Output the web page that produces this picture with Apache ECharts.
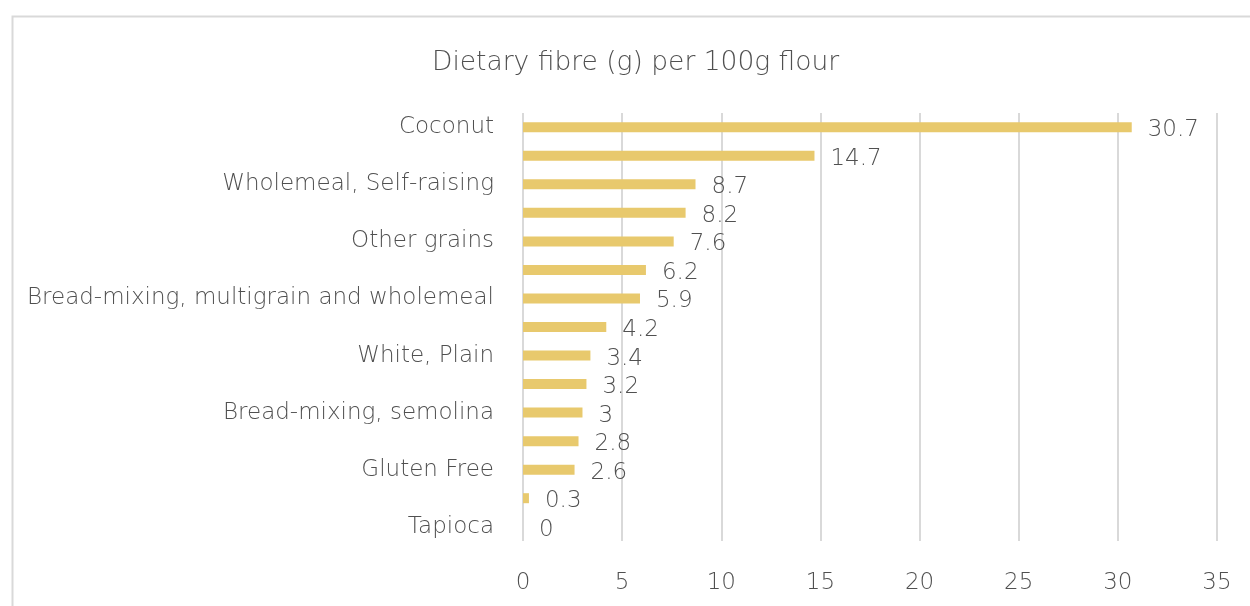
<!DOCTYPE html>
<html>
<head>
<meta charset="utf-8">
<script src="https://cdn.jsdelivr.net/npm/echarts@6/dist/echarts.min.js"></script>
<style>
html, body { margin: 0; padding: 0; background: #fff; }
#fibreChart { width: 1250px; height: 606px; }
</style>
</head>
<body>
<div id="fibreChart"></div>
<script>
// flour types, top to bottom (every other label is hidden in the original)
var flours = [
    'Coconut', 'Soy', 'Wholemeal, Self-raising', 'Wholemeal, Plain',
    'Other grains', 'Rye', 'Bread-mixing, multigrain and wholemeal',
    'Bread-mixing, white', 'White, Plain', 'White, Self-raising',
    'Bread-mixing, semolina', 'Spelt', 'Gluten Free', 'Rice', 'Tapioca'
];
var fibre = [30.7, 14.7, 8.7, 8.2, 7.6, 6.2, 5.9, 4.2, 3.4, 3.2, 3, 2.8, 2.6, 0.3, 0];
var xTicks = [0, 35, 5];

var textColor = '#505050';
var font = 'DejaVu Sans';

var chart = echarts.init(document.getElementById('fibreChart'));
chart.setOption({
    animation: false,
    textStyle: { fontFamily: font },
    graphic: [{
        type: 'rect',
        left: 10, top: 14,
        shape: { width: 1300, height: 700 },
        style: { fill: 'none', stroke: '#d9d9d9', lineWidth: 2 }
    }],
    title: {
        text: 'Dietary fibre (g) per 100g flour',
        left: 427,
        top: 45,
        textStyle: { color: textColor, fontSize: 26.5, fontWeight: 200, fontFamily: font }
    },
    grid: { left: 523, right: 33, top: 113, bottom: 65 },
    xAxis: {
        type: 'value',
        min: xTicks[0],
        max: xTicks[1],
        interval: xTicks[2],
        axisLine: { show: false },
        axisTick: { show: false },
        axisLabel: { color: textColor, fontSize: 23, fontWeight: 200, margin: 31 },
        splitLine: { lineStyle: { color: '#d9d9d9', width: 2 } }
    },
    yAxis: {
        type: 'category',
        inverse: true,
        data: flours,
        axisLine: { show: false },
        axisTick: { show: false },
        axisLabel: { color: textColor, fontSize: 23, fontWeight: 200, margin: 29, interval: 1 }
    },
    series: [{
        type: 'bar',
        data: fibre,
        barWidth: 10,
        itemStyle: { color: '#E8C96D' },
        label: {
            show: true,
            position: 'right',
            distance: 16,
            color: textColor,
            fontSize: 23,
            fontWeight: 200,
            fontFamily: font,
            offset: [0, 3]
        }
    }]
});
</script>
</body>
</html>
